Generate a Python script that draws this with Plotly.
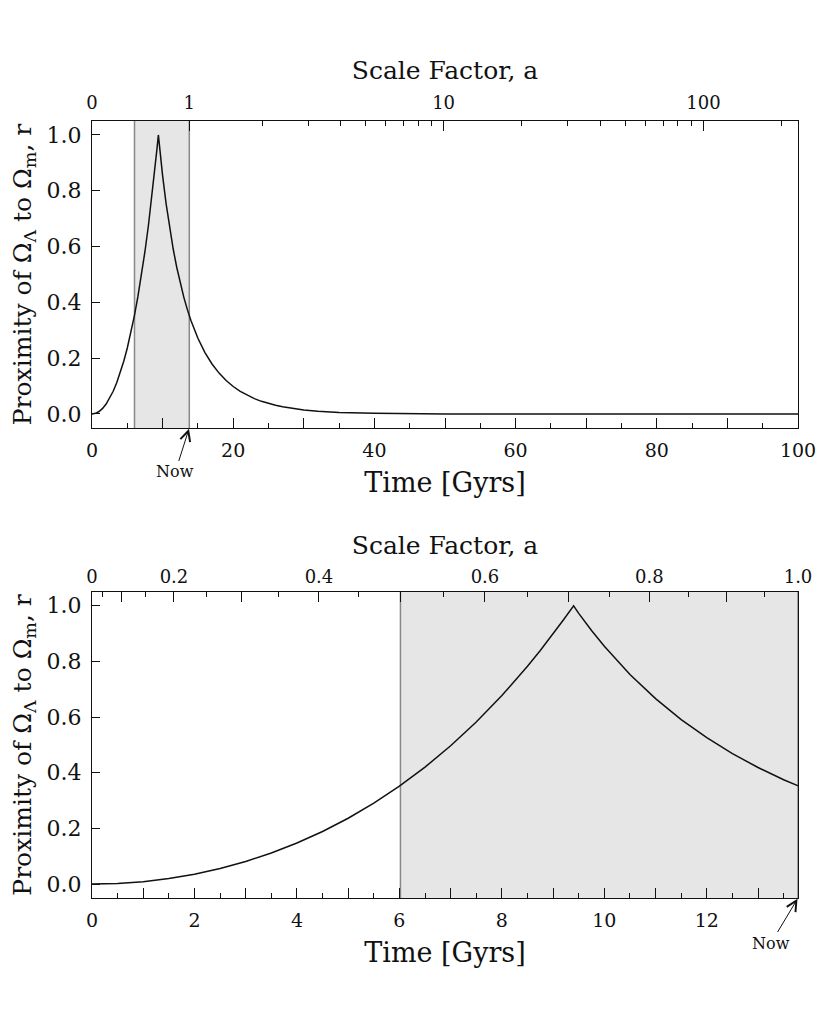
import plotly.graph_objects as go

# cosmic time [Gyr] and proximity r = min(OmL/OmM, OmM/OmL)
TIME_GYR = [0.0, 0.5, 1.0, 1.5, 2.0, 2.5, 3.0, 3.5, 4.0, 4.5, 5.0, 5.5, 6.0,
            6.5, 7.0, 7.5, 8.0, 8.5, 8.75, 9.0, 9.2, 9.4, 9.5, 9.75, 10.0,
            10.5, 11.0, 11.5, 12.0, 12.5, 13.0, 13.5, 13.78, 14.0, 15.0,
            16.0, 17.0, 18.0, 19.0, 20.0, 21.0, 22.0, 23.0, 24.0, 25.0,
            26.0, 27.0, 28.0, 30.0, 32.0, 35.0, 40.0, 45.0, 50.0, 60.0,
            80.0, 100.0]
PROXIMITY_R = [0.0, 0.0022, 0.0088, 0.0199, 0.0356, 0.0560, 0.0813, 0.1117,
               0.1475, 0.1890, 0.2366, 0.2907, 0.3517, 0.4202, 0.4969,
               0.5823, 0.6772, 0.7825, 0.8394, 0.8991, 0.9491, 1.0, 0.9727,
               0.9112, 0.8544, 0.7533, 0.6664, 0.5912, 0.5259, 0.4689,
               0.4189, 0.3749, 0.3526, 0.3362, 0.2714, 0.2201, 0.1792,
               0.1464, 0.1199, 0.0984, 0.0809, 0.0666, 0.0549, 0.0453,
               0.0374, 0.0309, 0.0256, 0.0211, 0.0145, 0.0099, 0.0056,
               0.0022, 0.0009, 0.0003, 0.0001, 0.0, 0.0]

NOW_GYR = 13.78
SHADE_START_GYR = 6.02

# scale factor axis, top panel (long range)
SCALE_WIDE_LABELS = ["0", "1", "10", "100"]
SCALE_WIDE_TIMES = [0.0, 13.78, 49.8, 86.6]
SCALE_WIDE_MINOR_TIMES = [24.2, 30.6, 35.2, 38.7, 41.6, 44.1, 46.2, 48.1,
                          60.9, 67.4, 72.0, 75.5, 78.4, 80.9, 83.0, 84.9, 97.7]

# scale factor axis, bottom panel: labels every 0.2, long ticks every 0.1,
# short ticks at the odd 0.05 steps
SCALE_ZOOM_LABELS = ["0", "0.2", "0.4", "0.6", "0.8", "1.0"]
SCALE_ZOOM_LABEL_TIMES = [0.0, 1.60, 4.43, 7.67, 10.88, 13.78]
SCALE_ZOOM_TICK_TIMES = [0.0, 0.57, 1.60, 2.92, 4.43, 6.02, 7.67, 9.30,
                         10.88, 12.38, 13.78]
SCALE_ZOOM_MINOR_TIMES = [0.20, 1.04, 2.23, 3.64, 5.20, 6.86, 8.50, 10.10,
                          11.65, 13.12]

R_TICKS = [0.0, 0.2, 0.4, 0.6, 0.8, 1.0]
R_LABELS = ["0.0", "0.2", "0.4", "0.6", "0.8", "1.0"]

FONT = "DejaVu Serif"
INK = "#111111"
SHADE = "#e6e6e6"
EDGE = "#888888"

fig = go.Figure()

for xa, ya in [("x", "y"), ("x2", "y2")]:
    fig.add_trace(go.Scatter(x=TIME_GYR, y=PROXIMITY_R, mode="lines",
                             line=dict(color=INK, width=1.5),
                             xaxis=xa, yaxis=ya, showlegend=False,
                             hoverinfo="skip"))
# invisible copies so the top (scale factor) axes get drawn
for xa, ya in [("x3", "y"), ("x4", "y2"), ("x5", "y2")]:
    fig.add_trace(go.Scatter(x=TIME_GYR, y=PROXIMITY_R, mode="lines",
                             line=dict(width=0), opacity=0,
                             xaxis=xa, yaxis=ya, showlegend=False,
                             hoverinfo="skip"))

for xref, yref in [("x", "y domain"), ("x2", "y2 domain")]:
    fig.add_shape(type="rect", xref=xref, yref=yref,
                  x0=SHADE_START_GYR, x1=NOW_GYR, y0=0, y1=1,
                  fillcolor=SHADE, line=dict(width=0), layer="below")
    for xv in (SHADE_START_GYR, NOW_GYR):
        fig.add_shape(type="line", xref=xref, yref=yref,
                      x0=xv, x1=xv, y0=0, y1=1,
                      line=dict(color=EDGE, width=1.5), layer="below")

TICK_FONT = dict(family=FONT, size=19, color=INK)
TOP_FONT = dict(family=FONT, size=18, color=INK)
SCALE_TITLE = dict(text="Scale Factor, a", standoff=4,
                   font=dict(family=FONT, size=25, color=INK))


def time_axis(rng, dtick, minor_dtick):
    return dict(range=rng, tickmode="linear", tick0=0, dtick=dtick,
                ticklabelstep=2, ticks="inside", ticklen=10, tickwidth=1,
                tickcolor=INK, minor=dict(dtick=minor_dtick, ticks="inside",
                                          ticklen=5, tickcolor=INK),
                showline=True, linecolor=INK, linewidth=1.3, mirror=True,
                showgrid=False, zeroline=False, tickfont=TICK_FONT,
                ticklabelstandoff=5,
                title=dict(text="Time [Gyrs]", standoff=13,
                           font=dict(family=FONT, size=27, color=INK)))


def scale_axis(base, anchor, rng, ticks, minor_ticks, labels=None):
    ax = dict(overlaying=base, anchor=anchor, side="top", range=rng,
              tickmode="array", tickvals=ticks, ticks="inside", ticklen=10,
              tickwidth=1, tickcolor=INK,
              minor=dict(tickmode="array", tickvals=minor_ticks,
                         ticks="inside", ticklen=5, tickcolor=INK),
              showline=True, linecolor=INK, linewidth=1.3,
              showgrid=False, zeroline=False)
    if labels is None:
        ax["showticklabels"] = False
    else:
        ax.update(ticktext=labels, tickfont=TOP_FONT, ticklabelstandoff=4,
                  title=SCALE_TITLE)
    return ax


def r_axis(domain, anchor):
    return dict(domain=domain, anchor=anchor, range=[-0.05, 1.05],
                tickmode="array", tickvals=R_TICKS, ticktext=R_LABELS,
                ticks="inside", ticklen=8, tickwidth=1, tickcolor=INK,
                showline=True, linecolor=INK, linewidth=1.3, mirror=True,
                showgrid=False, zeroline=False,
                tickfont=dict(family=FONT, size=22, color=INK),
                ticklabelstandoff=5,
                title=dict(text="Proximity of Ω<sub>Λ</sub> to Ω<sub>m</sub>, r",
                           standoff=10,
                           font=dict(family=FONT, size=25, color=INK)))


fig.update_layout(
    width=830, height=1022,
    margin=dict(l=84, r=40, t=113, b=132),
    paper_bgcolor="white", plot_bgcolor="white",
    xaxis=dict(anchor="y", **time_axis([0, 100], 10, 5)),
    xaxis2=dict(anchor="y2", **time_axis([0, NOW_GYR], 1, 0.5)),
    xaxis3=scale_axis("x", "y", [0, 100], SCALE_WIDE_TIMES,
                      SCALE_WIDE_MINOR_TIMES, SCALE_WIDE_LABELS),
    xaxis4=scale_axis("x2", "y2", [0, NOW_GYR], SCALE_ZOOM_TICK_TIMES,
                      SCALE_ZOOM_MINOR_TIMES),
    xaxis5=dict(overlaying="x2", anchor="y2", side="top",
                range=[0, NOW_GYR], tickmode="array",
                tickvals=SCALE_ZOOM_LABEL_TIMES, ticktext=SCALE_ZOOM_LABELS,
                ticks="", showline=False, showgrid=False, zeroline=False,
                tickfont=TOP_FONT, ticklabelstandoff=4, title=SCALE_TITLE),
    yaxis=r_axis([0.605, 1.0], "x"),
    yaxis2=r_axis([0.0, 0.394], "x2"),
    showlegend=False,
)

for xref, yref, ax, ay in [("x", "y", -14, 44), ("x2", "y2", -27, 45)]:
    fig.add_annotation(x=NOW_GYR, y=-0.05, xref=xref, yref=yref,
                       text="Now", showarrow=True, ax=ax, ay=ay,
                       arrowhead=5, arrowsize=2, arrowwidth=1,
                       arrowcolor=INK, standoff=1,
                       font=dict(family=FONT, size=16, color=INK))

fig.write_html("out.html")
